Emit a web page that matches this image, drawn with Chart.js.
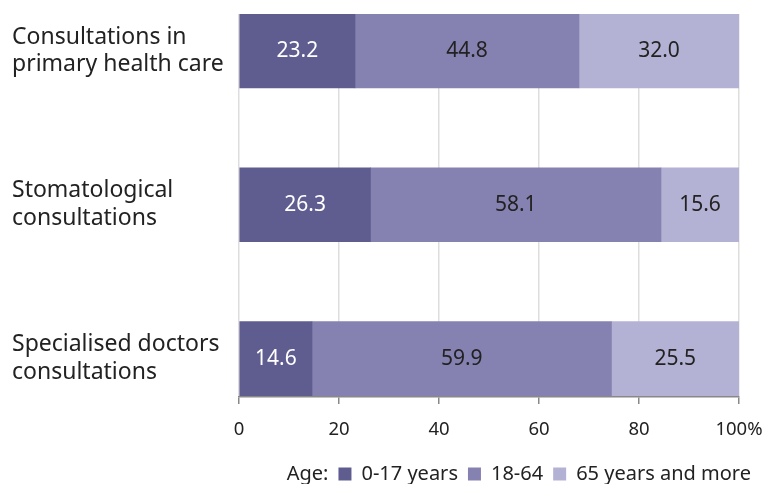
<!DOCTYPE html>
<html>
<head>
<meta charset="utf-8">
<script src="https://cdn.jsdelivr.net/npm/chart.js@4/dist/chart.umd.min.js"></script>
<style>
  html, body { margin: 0; padding: 0; background: #fff; }
  #wrap { width: 763px; height: 484px; }
</style>
</head>
<body>
<div id="wrap"><canvas id="barChart"></canvas></div>
<script>
const categories = [
  ["Consultations in", "primary health care"],
  ["Stomatological", "consultations"],
  ["Specialised doctors", "consultations"],
];
const seriesNames = ["0-17 years", "18-64", "65 years and more"];
const age0to17 = [23.2, 26.3, 14.6];
const age18to64 = [44.8, 58.1, 59.9];
const age65plus = [32.0, 15.6, 25.5];
const xTicks = [0, 20, 40, 60, 80, 100];

const colors = ["#5f5c8f", "#8582b1", "#b4b2d4"];
const labelColors = ["#ffffff", "#222222", "#222222"];
const font = "'Noto Sans', sans-serif";

function points(values) {
  return values.map((v, i) => ({ x: v, y: i }));
}

// writes the value in the middle of each bar segment
const valueLabels = {
  id: "valueLabels",
  afterDatasetsDraw(chart) {
    const c = chart.ctx;
    c.save();
    c.font = "21px " + font;
    c.textAlign = "center";
    c.textBaseline = "middle";
    chart.data.datasets.forEach((ds, i) => {
      chart.getDatasetMeta(i).data.forEach((bar, j) => {
        c.fillStyle = labelColors[i];
        c.fillText(ds.data[j].x.toFixed(1), (bar.x + bar.base) / 2, bar.y);
      });
    });
    c.restore();
  },
};

// "Age:" in front of the legend
const legendTitle = {
  id: "legendTitle",
  afterDraw(chart) {
    const box = chart.legend.legendHitBoxes[0];
    if (!box) return;
    const c = chart.ctx;
    c.save();
    c.font = "20px " + font;
    c.fillStyle = "#222";
    c.textAlign = "right";
    c.textBaseline = "middle";
    c.fillText("Age:", box.left - 10, box.top + box.height / 2);
    c.restore();
  },
};

let ctx = document.getElementById("barChart").getContext("2d");

new Chart(ctx, {
  type: "bar",
  data: {
    datasets: [
      { label: seriesNames[0], data: points(age0to17), backgroundColor: colors[0] },
      { label: seriesNames[1], data: points(age18to64), backgroundColor: colors[1] },
      { label: seriesNames[2], data: points(age65plus), backgroundColor: colors[2] },
    ],
  },
  options: {
    indexAxis: "y",
    responsive: true,
    maintainAspectRatio: false,
    animation: false,
    barThickness: 74,
    layout: { padding: { top: 14, left: 12, right: 2, bottom: -10 } },
    scales: {
      x: {
        type: "linear",
        stacked: true,
        min: 0,
        max: 100,
        afterBuildTicks: (s) => { s.ticks = xTicks.map((v) => ({ value: v })); },
        afterFit: (s) => { s.height = 57; s.paddingLeft = 0; s.paddingRight = 24; },
        grid: { color: "#dddddd", tickColor: "#888888", tickLength: 7, lineWidth: 1.5 },
        border: { color: "#888888", width: 1.5 },
        ticks: {
          padding: 15,
          color: "#222",
          font: { family: font, size: 18.5 },
          callback: (v) => (v === 100 ? "100%" : v),
        },
      },
      y: {
        type: "linear",
        stacked: true,
        reverse: true,
        offset: false,
        min: -0.24,
        max: 2.25,
        afterBuildTicks: (s) => { s.ticks = categories.map((_, i) => ({ value: i })); },
        afterFit: (s) => { s.width = 227; s.paddingTop = 0; s.paddingBottom = 0; },
        grid: { display: false },
        border: { display: false },
        ticks: {
          crossAlign: "far",
          color: "#222",
          font: { family: font, size: 23, lineHeight: 1.2 },
          callback: (v) => categories[v],
        },
      },
    },
    plugins: {
      legend: {
        position: "bottom",
        align: "end",
        labels: {
          boxWidth: 13,
          boxHeight: 13,
          color: "#222",
          padding: 10,
          font: { family: font, size: 20 },
        },
      },
      tooltip: { enabled: false },
    },
  },
  plugins: [valueLabels, legendTitle],
});
</script>
</body>
</html>
